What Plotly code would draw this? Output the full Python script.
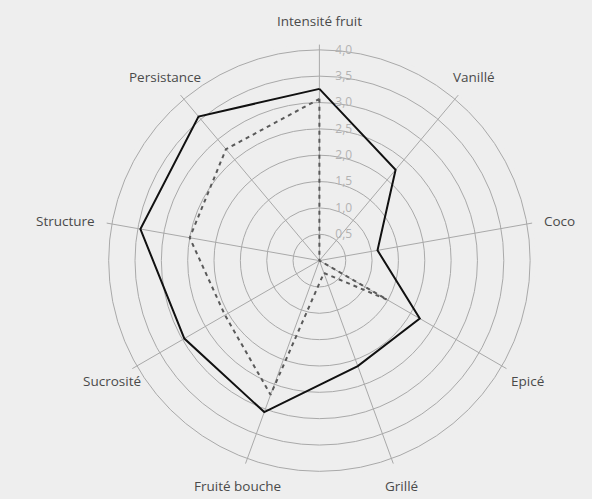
import math
import plotly.graph_objects as go

# Tasting profile axes (clockwise from the top)
categories = ["Intensité fruit", "Vanillé", "Coco", "Epicé", "Grillé",
              "Fruité bouche", "Sucrosité", "Structure", "Persistance"]

# Scores for the two wines
profile_solid = [3.26, 2.25, 1.12, 2.2, 2.13, 3.06, 2.96, 3.45, 3.57]
profile_dashed = [3.07, 0.0, 0.0, 1.48, 0.25, 2.71, 2.07, 2.5, 2.76]

radial_ticks = [0.5, 1.0, 1.5, 2.0, 2.5, 3.0, 3.5, 4.0]

BG = "#eeeeee"
GRID = "#a9a9a9"
R_MAX = 4.1


def closed(values):
    return values + values[:1]


fig = go.Figure()
fig.add_trace(go.Scatterpolar(
    r=closed(profile_dashed), theta=closed(categories),
    mode="lines", line=dict(color="#5a5a5a", width=2, dash="4px,4px"),
    showlegend=False, hoverinfo="skip",
))
fig.add_trace(go.Scatterpolar(
    r=closed(profile_solid), theta=closed(categories),
    mode="lines", line=dict(color="#111111", width=2),
    showlegend=False, hoverinfo="skip",
))

W, H = 592, 499
cx, cy, rad = 319.4, 238.4, 216.0   # polar centre (from bottom-left) and radius, px

# Axis titles placed just past the end of each spoke
step = 360 / len(categories)
annotations = []
for i, name in enumerate(categories):
    ang = math.radians(90 - step * i)
    c, s = math.cos(ang), math.sin(ang)
    if abs(s) < 0.3:
        d = rad + 10
        xanchor = "left" if c > 0 else "right"
    else:
        d = rad + 24
        xanchor = "center"
    annotations.append(dict(
        x=(cx + d * c) / W, y=(cy + d * s) / H, xref="paper", yref="paper",
        text=name, showarrow=False, xanchor=xanchor, yanchor="middle",
        font=dict(family="Open Sans, sans-serif", size=13.5, color="#4a4a4a"),
    ))

fig.update_layout(
    width=W, height=H,
    margin=dict(l=0, r=0, t=0, b=0),
    paper_bgcolor=BG,
    separators=", ",
    font=dict(family="Open Sans, sans-serif"),
    annotations=annotations,
    polar=dict(
        bgcolor=BG,
        domain=dict(x=[(cx - rad) / W, (cx + rad) / W],
                    y=[(cy - rad) / H, (cy + rad) / H]),
        angularaxis=dict(
            rotation=90, direction="clockwise",
            categoryorder="array", categoryarray=categories,
            showline=False, showgrid=True, gridcolor=GRID, gridwidth=1,
            ticks="", showticklabels=False,
        ),
        radialaxis=dict(
            range=[0, R_MAX], angle=90, tickangle=90,
            tickvals=radial_ticks, tickformat=".1f",
            showline=False, showgrid=True, gridcolor=GRID, gridwidth=1,
            ticks="outside", ticklen=13, tickcolor="rgba(0,0,0,0)",
            tickfont=dict(size=12, color="#b3b3b3"),
        ),
    ),
)

fig.write_html("out.html")
